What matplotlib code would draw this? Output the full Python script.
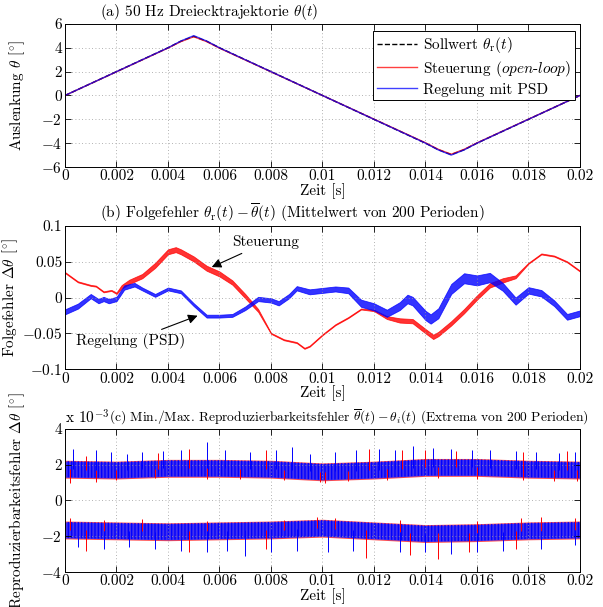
import numpy as np
import matplotlib
matplotlib.use('Agg')
import matplotlib.pyplot as plt

# (a) Dreiecktrajektorie
t_a = [0, 0.004, 0.0045, 0.005, 0.0055, 0.006, 0.014, 0.0145, 0.015, 0.0155, 0.016, 0.02]
theta_ref = [0, 4.0, 4.55, 4.96, 4.55, 4.0, -4.0, -4.55, -4.96, -4.55, -4.0, 0]
theta_red = [0, 3.98, 4.52, 4.93, 4.52, 3.97, -3.97, -4.52, -4.93, -4.52, -3.98, 0]
theta_blue = [0, 4.0, 4.57, 5.02, 4.57, 4.0, -4.0, -4.57, -5.0, -4.57, -4.0, 0]

# (b) Folgefehler (Mittelwert)
t_red = [0, 0.0005, 0.001, 0.0012, 0.0015, 0.0018, 0.002, 0.0022, 0.0025, 0.003, 0.0035,
         0.004, 0.0043, 0.0045, 0.005, 0.0055, 0.006, 0.0065, 0.007, 0.0075, 0.008, 0.0085,
         0.009, 0.0093, 0.0095, 0.01, 0.0105, 0.011, 0.0115, 0.012, 0.0125, 0.013, 0.0135,
         0.014, 0.0143, 0.0145, 0.015, 0.0155, 0.016, 0.0165, 0.017, 0.0175, 0.018, 0.0185,
         0.019, 0.0195, 0.02]
err_red = [0.035, 0.022, 0.017, 0.016, 0.008, 0.010, 0.006, 0.015, 0.022, 0.030, 0.045,
           0.064, 0.067, 0.064, 0.054, 0.041, 0.033, 0.021, 0.002, -0.018, -0.050, -0.059,
           -0.063, -0.071, -0.068, -0.052, -0.038, -0.028, -0.016, -0.018, -0.028, -0.032, -0.033,
           -0.047, -0.055, -0.051, -0.036, -0.019, 0.0, 0.017, 0.024, 0.029, 0.048, 0.061,
           0.058, 0.050, 0.037]
hw_red = [0.0007, 0.0007, 0.0007, 0.0007, 0.0007, 0.0007, 0.0010, 0.0025, 0.003, 0.003, 0.0035,
          0.0035, 0.0035, 0.0035, 0.0035, 0.0035, 0.0035, 0.003, 0.003, 0.002, 0.0007, 0.0007,
          0.0007, 0.0007, 0.0007, 0.0007, 0.0007, 0.0007, 0.0007, 0.0010, 0.002, 0.003, 0.003,
          0.003, 0.003, 0.003, 0.003, 0.003, 0.003, 0.003, 0.003, 0.002, 0.0007, 0.0007,
          0.0007, 0.0007, 0.0007]

t_blue = [0, 0.0005, 0.001, 0.0013, 0.0015, 0.0017, 0.002, 0.0023, 0.0027, 0.003, 0.0035,
          0.004, 0.0045, 0.005, 0.0055, 0.006, 0.0065, 0.007, 0.0075, 0.008, 0.0083, 0.0087,
          0.009, 0.0095, 0.01, 0.0105, 0.011, 0.0115, 0.012, 0.0125, 0.013, 0.0133, 0.0135,
          0.014, 0.0142, 0.0145, 0.015, 0.0155, 0.016, 0.0165, 0.017, 0.0175, 0.018, 0.0185,
          0.019, 0.0195, 0.02]
err_blue = [-0.020, -0.012, 0.002, -0.005, -0.002, -0.005, -0.002, 0.014, 0.018, 0.012, 0.003,
            0.012, 0.008, -0.010, -0.026, -0.026, -0.025, -0.015, -0.002, -0.004, -0.008, 0.002,
            0.013, 0.008, 0.010, 0.012, 0.010, -0.008, -0.013, -0.022, -0.012, -0.002, -0.005,
            -0.025, -0.030, -0.022, 0.012, 0.027, 0.024, 0.028, 0.015, -0.005, 0.010, 0.006,
            -0.008, -0.027, -0.022]
hw_blue = [0.0035, 0.0035, 0.003, 0.003, 0.003, 0.003, 0.003, 0.003, 0.0025, 0.002, 0.002,
           0.002, 0.002, 0.002, 0.002, 0.002, 0.002, 0.0025, 0.003, 0.003, 0.003, 0.003,
           0.003, 0.0035, 0.0035, 0.0035, 0.004, 0.005, 0.005, 0.005, 0.0055, 0.006, 0.006,
           0.0065, 0.0065, 0.007, 0.007, 0.007, 0.007, 0.0065, 0.0055, 0.005, 0.0045, 0.0045,
           0.004, 0.004, 0.004]

# (c) Reproduzierbarkeitsfehler (x 1e-3), Kernband-Mittellinien
t_c = [0, 0.002, 0.004, 0.006, 0.008, 0.01, 0.012, 0.014, 0.016, 0.018, 0.02]
max_mid = [1.75, 1.70, 1.80, 1.80, 1.75, 1.60, 1.70, 1.85, 1.85, 1.75, 1.70]
min_mid = [-1.65, -1.70, -1.75, -1.70, -1.65, -1.55, -1.70, -1.85, -1.80, -1.70, -1.65]

# auffaellige Ausreisser
spk_max_blue_t = [0.0003, 0.0012, 0.0018, 0.0024, 0.003, 0.0038, 0.0045, 0.0055, 0.0062, 0.0072,
                  0.0082, 0.0088, 0.0095, 0.0105, 0.0113, 0.0122, 0.0128, 0.0135, 0.0143, 0.015,
                  0.0158, 0.0165, 0.0175, 0.0183, 0.0192, 0.0198]
spk_max_blue_v = [2.9, 2.8, 2.7, 2.6, 2.7, 2.75, 2.8, 3.25, 2.8, 2.7,
                  2.85, 3.0, 2.6, 2.7, 2.8, 2.9, 2.85, 3.05, 2.95, 2.9,
                  2.8, 2.85, 2.75, 2.7, 2.65, 2.7]
spk_max_red_t = [0.0008, 0.0036, 0.0048, 0.0078, 0.0118, 0.0131, 0.014, 0.0152, 0.0178, 0.0195,
                 0.0002, 0.0012, 0.002, 0.0035, 0.0055, 0.0068, 0.0085, 0.0099, 0.0101, 0.011,
                 0.0125, 0.0145, 0.016, 0.0178, 0.019, 0.0199]
spk_max_red_v = [2.5, 2.65, 2.9, 2.8, 2.9, 2.85, 2.8, 2.75, 2.7, 2.75,
                 0.95, 1.05, 1.15, 1.25, 1.2, 1.2, 1.15, 1.05, 0.95, 1.1,
                 1.15, 1.25, 1.2, 1.15, 1.1, 1.1]
spk_min_blue_t = [0.0005, 0.0015, 0.0025, 0.0035, 0.0045, 0.0055, 0.0063, 0.007, 0.008, 0.009,
                  0.0102, 0.0112, 0.013, 0.014, 0.015, 0.016, 0.017, 0.0185, 0.0198]
spk_min_blue_v = [-2.6, -2.7, -2.6, -2.7, -2.8, -2.9, -2.8, -3.1, -2.9, -2.8,
                  -2.9, -2.8, -2.9, -2.9, -3.0, -2.9, -2.8, -2.7, -2.5]
spk_min_red_t = [0.0008, 0.0048, 0.0078, 0.0117, 0.0134, 0.0145, 0.0157, 0.0175,
                 0.0002, 0.0015, 0.003, 0.0055, 0.0085, 0.0098, 0.0105, 0.013, 0.016, 0.0177,
                 0.0185, 0.0198]
spk_min_red_v = [-2.8, -2.9, -2.7, -3.2, -3.05, -3.25, -2.9, -2.7,
                 -1.0, -1.1, -1.05, -1.15, -1.1, -0.9, -1.0, -1.1, -1.15, -1.0,
                 -0.95, -1.0]

x_ticks = [0, 0.002, 0.004, 0.006, 0.008, 0.01, 0.012, 0.014, 0.016, 0.018, 0.02]
x_labels = ['0', '0.002', '0.004', '0.006', '0.008', '0.01', '0.012', '0.014', '0.016', '0.018', '0.02']

plt.rcParams['font.family'] = 'serif'
plt.rcParams['font.serif'] = ['cmr10', 'DejaVu Serif']
plt.rcParams['mathtext.fontset'] = 'cm'
plt.rcParams['axes.unicode_minus'] = False
plt.rcParams['font.size'] = 11

RED = '#ff0000'
BLUE = '#0000ff'


def style(ax, yticks, ylabels, ylab_x=-0.074):
    ax.set_xlim(0, 0.02)
    ax.set_xticks(x_ticks)
    ax.set_xticklabels(x_labels)
    ax.set_yticks(yticks)
    ax.set_yticklabels(ylabels)
    ax.set_ylim(yticks[0], yticks[-1])
    ax.grid(True, linestyle=(0, (1, 3)), color='#999999', lw=0.6)
    ax.tick_params(direction='in', top=True, right=True, length=4, width=0.6, pad=2)
    for s in ax.spines.values():
        s.set_linewidth(0.7)
    ax.set_xlabel('Zeit [s]', labelpad=0)
    ax.yaxis.set_label_coords(ylab_x, 0.5)


fig = plt.figure(figsize=(6.03, 6.07), dpi=100)
L, W, H = 0.1078, 0.854, 0.2356
ax1 = fig.add_axes([L, 0.7249, W, H])
ax2 = fig.add_axes([L, 0.392, W, H])
ax3 = fig.add_axes([L, 0.0577, W, H])

# (a)
ax1.plot(t_a, theta_ref, 'k--', lw=1, label=r'Sollwert $\theta_{\rm r}(t)$')
ax1.plot(t_a, theta_red, color=RED, lw=1, alpha=0.75, label=r'Steuerung ($\mathit{open}$-$\mathit{loop}$)')
ax1.plot(t_a, theta_blue, color=BLUE, lw=1, alpha=0.75, label='Regelung mit PSD')
style(ax1, [-6, -4, -2, 0, 2, 4, 6], ['$-6$', '$-4$', '$-2$', '0', '2', '4', '6'])
ax1.set_ylabel(r'Auslenkung $\theta$ [$^{\circ}$]')
ax1.text(0.068, 1.015, r'(a) 50 Hz Dreiecktrajektorie $\theta(t)$', transform=ax1.transAxes,
         ha='left', va='bottom')
leg = ax1.legend(loc='upper right', bbox_to_anchor=(0.99, 0.95), fancybox=False, framealpha=1,
                 edgecolor='k', handlelength=2.6, borderpad=0.25, labelspacing=0.25,
                 handletextpad=0.4, borderaxespad=0)
leg.get_frame().set_linewidth(0.7)

# (b)
tr, er, hr = np.array(t_red), np.array(err_red), np.array(hw_red)
tb, eb, hb = np.array(t_blue), np.array(err_blue), np.array(hw_blue)
ax2.fill_between(tr, er - hr, er + hr, color=RED, lw=0.6, alpha=0.8)
ax2.fill_between(tb, eb - hb, eb + hb, color=BLUE, lw=0.6, alpha=0.8)
style(ax2, [-0.1, -0.05, 0, 0.05, 0.1], ['$-0.1$', '$-0.05$', '0', '0.05', '0.1'], ylab_x=-0.088)
ax2.set_ylabel(r'Folgefehler $\Delta\theta$ [$^{\circ}$]')
ax2.text(0.068, 1.015, r'(b) Folgefehler $\theta_{\rm r}(t) - \overline{\theta}(t)$ (Mittelwert von 200 Perioden)',
         transform=ax2.transAxes, ha='left', va='bottom')
ap = dict(arrowstyle='-|>', color='k', lw=0.8, mutation_scale=14)
ax2.annotate('Steuerung', xy=(0.0056, 0.041), xytext=(0.0078, 0.077), ha='center', va='center',
             arrowprops=ap)
ax2.annotate('Regelung (PSD)', xy=(0.00525, -0.024), xytext=(0.00255, -0.061), ha='center',
             va='center', arrowprops=ap)

# (c)
tc = np.array(t_c)
mx, mn = np.array(max_mid), np.array(min_mid)
for mid in (mx, mn):
    ax3.fill_between(tc, mid - 0.5, mid + 0.5, color=RED, lw=0, alpha=0.7)
    ax3.fill_between(tc, mid - 0.45, mid + 0.45, color='#3030ff', lw=0, alpha=0.9)
    ax3.fill_between(tc, mid - 0.45, mid + 0.45, facecolor='none', edgecolor=BLUE, lw=0,
                     hatch='|||||')
ax3.vlines(spk_max_red_t, np.interp(spk_max_red_t, tc, mx), spk_max_red_v, color=RED, lw=0.7)
ax3.vlines(spk_max_blue_t, np.interp(spk_max_blue_t, tc, mx), spk_max_blue_v, color=BLUE, lw=0.7)
ax3.vlines(spk_min_red_t, np.interp(spk_min_red_t, tc, mn), spk_min_red_v, color=RED, lw=0.7)
ax3.vlines(spk_min_blue_t, np.interp(spk_min_blue_t, tc, mn), spk_min_blue_v, color=BLUE, lw=0.7)
style(ax3, [-4, -2, 0, 2, 4], ['$-4$', '$-2$', '0', '2', '4'])
ax3.set_ylabel(r'Reproduzierbarkeitsfehler $\Delta\theta$ [$^{\circ}$]')
ax3.text(0.0, 1.015, r'x 10$^{-3}$', transform=ax3.transAxes, ha='left', va='bottom')
ax3.text(0.086, 1.015, r'(c) Min./Max. Reproduzierbarkeitsfehler $\overline{\theta}(t) - \theta_i(t)$ (Extrema von 200 Perioden)',
         transform=ax3.transAxes, ha='left', va='bottom', fontsize=9.7)

fig.savefig('out.png', dpi=100)
